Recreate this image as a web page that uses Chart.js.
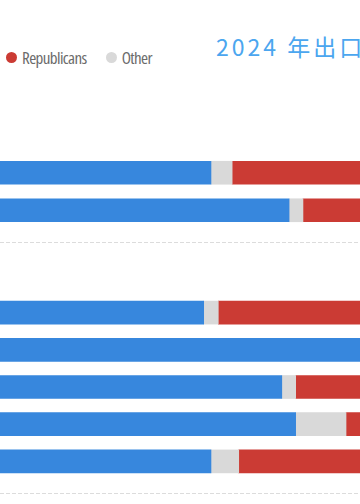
<!DOCTYPE html>
<html>
<head>
<meta charset="utf-8">
<script src="https://cdn.jsdelivr.net/npm/chart.js@4"></script>
<style>
  html, body { margin: 0; padding: 0; background: #fff; }
  body { width: 360px; height: 504px; overflow: hidden; position: relative; }
  #title {
    position: absolute; left: 216px; top: 35px; white-space: nowrap;
    font: 23px "Noto Sans CJK SC", sans-serif; line-height: 1;
    letter-spacing: 3px; color: #4ba6ef;
  }
  #legend {
    position: absolute; right: 208px; top: 49px; height: 17px;
    display: flex; align-items: center; white-space: nowrap;
    font-family: "Open Sans", sans-serif; font-size: 17px; font-stretch: 75%;
    letter-spacing: -0.6px; line-height: 17px; color: #6b6b6b;
  }
  #legend .item { display: flex; align-items: center; margin-left: 19px; }
  #legend .dot { width: 11px; height: 11px; border-radius: 50%; margin-right: 5px; }
  .group { position: absolute; left: -100px; width: 730px; }
  .sep {
    position: absolute; left: 0; width: 360px; height: 1px;
    background: repeating-linear-gradient(to right, #dcdcdc 0 4px, transparent 4px 6px);
  }
</style>
</head>
<body>
<div id="title">2024 年出口民调</div>
<div id="legend"></div>
<div class="group" style="top:154px;height:75px"><canvas id="c1"></canvas></div>
<div class="sep" style="top:242px"></div>
<div class="group" style="top:294px;height:186px"><canvas id="c2"></canvas></div>
<div class="sep" style="top:493px"></div>
<script>
const seriesNames = ['Democrats', 'Republicans', 'Other'];
const seriesColors = ['#3787dd', '#cb3b34', '#d9d9d9'];

// 性别
const genderLabels = ['男性', '女性'];
const genderDem = [42.6, 53.3];
const genderRep = [54.5, 44.8];
const genderOther = [2.9, 1.9];

// 种族
const raceLabels = ['白人', '黑人', '拉丁裔', '亚裔', '其他'];
const raceDem = [41.6, 86, 52.3, 54.2, 42.6];
const raceRep = [56.4, 13, 45.8, 38.9, 53.6];
const raceOther = [2.0, 1, 1.9, 6.9, 3.8];

// stacked left to right: blue, grey, red
function makeDatasets(dem, rep, other) {
  return [
    { label: seriesNames[0], data: dem, backgroundColor: seriesColors[0] },
    { label: seriesNames[2], data: other, backgroundColor: seriesColors[2] },
    { label: seriesNames[1], data: rep, backgroundColor: seriesColors[1] }
  ];
}

function makeChart(id, labels, dem, rep, other) {
  return new Chart(document.getElementById(id), {
    type: 'bar',
    data: { labels: labels, datasets: makeDatasets(dem, rep, other) },
    options: {
      indexAxis: 'y',
      responsive: true,
      maintainAspectRatio: false,
      animation: false,
      layout: { padding: 0 },
      datasets: { bar: { barThickness: 23, borderWidth: 0 } },
      plugins: { legend: { display: false }, tooltip: { enabled: false } },
      scales: {
        x: { stacked: true, min: 0, max: 100, display: false },
        y: { stacked: true, display: false }
      }
    }
  });
}

const chart1 = makeChart('c1', genderLabels, genderDem, genderRep, genderOther);
const chart2 = makeChart('c2', raceLabels, raceDem, raceRep, raceOther);

// html legend in series order
const legendEl = document.getElementById('legend');
seriesNames.forEach(function (name, i) {
  const item = document.createElement('div');
  item.className = 'item';
  const dot = document.createElement('span');
  dot.className = 'dot';
  dot.style.background = seriesColors[i];
  const txt = document.createElement('span');
  txt.textContent = name;
  item.appendChild(dot);
  item.appendChild(txt);
  legendEl.appendChild(item);
});
</script>
</body>
</html>
